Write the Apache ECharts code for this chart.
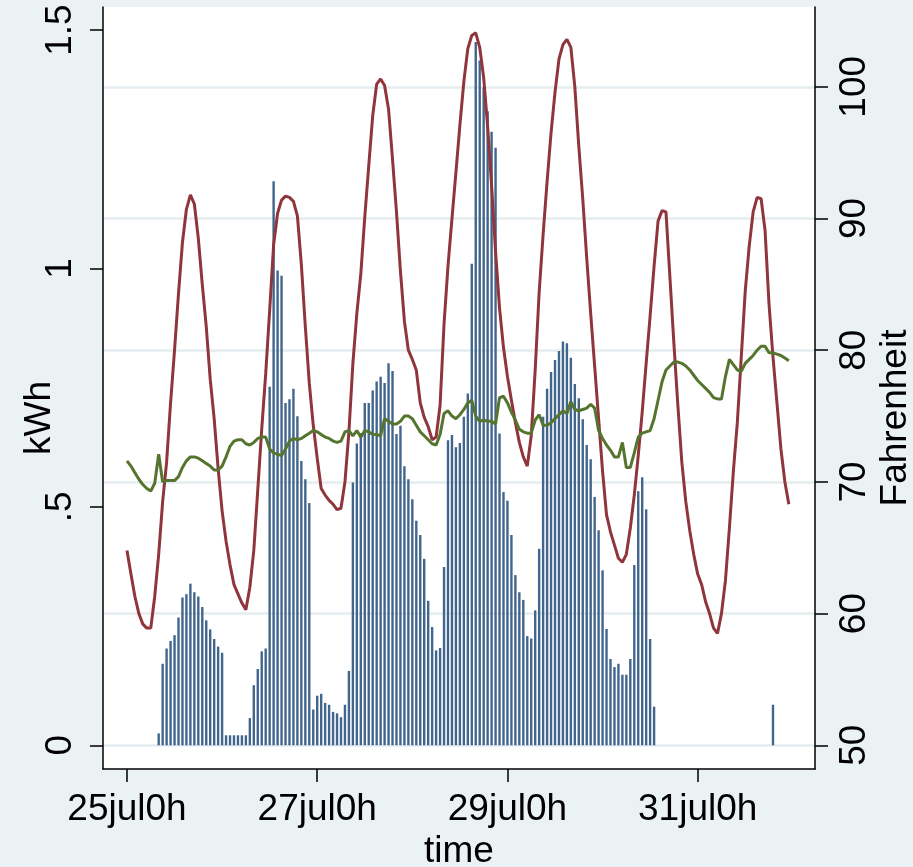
<!DOCTYPE html>
<html>
<head>
<meta charset="utf-8">
<script src="https://cdn.jsdelivr.net/npm/echarts@6.0.0/dist/echarts.min.js"></script>
<style>
html,body{margin:0;padding:0;background:#EAF2F3;}
#chart{width:913px;height:867px;}
</style>
</head>
<body>
<div id="chart"></div>
<script>
// hours since 25jul0h
var tickHours = [0, 48, 96, 144];
var tickLabels = ['25jul0h', '27jul0h', '29jul0h', '31jul0h'];
var kwhTicks = [0, 0.5, 1, 1.5];
var kwhTickLabels = ['0', '.5', '1', '1.5'];
var fTicks = [50, 60, 70, 80, 90, 100];

// hourly kWh (null = no bar), 168 hours
var kwh = [
  null, null, null, null, null, null, null, null,
  0.025, 0.171, 0.203, 0.219, 0.231, 0.268, 0.310, 0.317, 0.339, 0.321, 0.312, 0.290, 0.262, 0.243, 0.223, 0.207,
  0.194, 0.021, 0.021, 0.021, 0.021, 0.021, 0.021, 0.057, 0.126, 0.160, 0.197, 0.203, 0.752, 1.183, 0.996, 0.985,
  0.718, 0.726, 0.748, 0.690, 0.596, 0.558, 0.508, 0.075,
  0.104, 0.108, 0.089, 0.085, 0.070, 0.067, 0.059, 0.085, 0.156, 0.551, 0.633, 0.655, 0.718, 0.718, 0.744, 0.763,
  0.773, 0.760, 0.801, 0.785, 0.653, 0.670, 0.585, 0.558,
  0.516, 0.471, 0.441, 0.391, 0.303, 0.248, 0.199, 0.204, 0.374, 0.640, 0.651, 0.625, 0.634, 0.689, 0.738, 1.010,
  1.475, 1.436, 1.380, 1.330, 1.287, 1.253, 0.654, 0.531,
  0.513, 0.441, 0.357, 0.321, 0.305, 0.229, 0.224, 0.283, 0.412, 0.689, 0.748, 0.783, 0.808, 0.827, 0.847, 0.843,
  0.813, 0.758, 0.728, 0.684, 0.630, 0.600, 0.521, 0.451,
  0.367, 0.244, 0.181, 0.164, 0.171, 0.148, 0.148, 0.181, 0.378, 0.533, 0.562, 0.495, 0.223, 0.081, null, null,
  null, null, null, null, null, null, null, null,
  null, null, null, null, null, null, null, null, null, null, null, null, null, null, null, null,
  null, null, null, 0.085, null, null, null, null
];

// outdoor temperature, Fahrenheit, hourly
var outdoorF = [
  64.8, 63.0, 61.3, 60.0, 59.2, 58.9, 58.9, 61.3, 64.5, 68.5, 71.5, 76.0, 80.0, 84.3, 88.2, 90.7,
  91.8, 91.1, 88.5, 85.0, 81.8, 77.8, 74.8, 71.0, 67.8, 65.5, 63.7, 62.2, 61.5, 60.8, 60.3, 62.0,
  64.8, 69.4, 74.0, 78.2, 83.0, 88.0, 90.4, 91.4, 91.7, 91.6, 91.3, 90.2, 86.5, 81.8, 77.5, 74.3,
  71.8, 69.5, 69.0, 68.6, 68.3, 67.9, 68.0, 70.0, 73.8, 79.0, 82.8, 85.8, 90.1, 94.0, 97.8, 100.2,
  100.6, 100.1, 98.3, 94.5, 90.5, 86.0, 82.2, 80.0, 79.3, 78.5, 76.0, 74.9, 74.2, 73.2, 73.4, 75.8,
  82.0, 86.4, 90.0, 93.5, 97.1, 100.4, 102.9, 103.9, 104.1, 103.0, 100.7, 97.0, 92.5, 87.5, 83.2, 80.2,
  78.0, 76.2, 74.5, 73.0, 71.9, 71.2, 73.5, 78.5, 84.4, 88.8, 92.8, 96.5, 99.6, 102.1, 103.2, 103.6,
  103.0, 100.0, 95.5, 91.5, 87.0, 82.8, 78.8, 74.8, 70.8, 67.5, 66.2, 65.2, 64.2, 63.9, 64.5, 66.5,
  69.0, 72.0, 75.3, 79.0, 82.6, 86.4, 89.8, 90.6, 90.5, 85.5, 80.5, 75.8, 71.5, 68.5, 66.3, 64.5,
  63.0, 62.2, 60.9, 60.0, 58.9, 58.5, 60.0, 62.5, 66.5, 70.8, 74.5, 79.5, 84.5, 87.9, 90.5, 91.6,
  91.5, 89.1, 83.5, 79.5, 76.0, 72.5, 70.0, 68.3
];

// indoor temperature, Fahrenheit, hourly
var indoorF = [
  71.6, 71.2, 70.7, 70.2, 69.8, 69.5, 69.3, 69.9, 72.1, 70.0, 70.1, 70.1, 70.1, 70.4, 71.1, 71.6,
  71.9, 71.9, 71.8, 71.6, 71.4, 71.2, 70.9, 70.9, 71.2, 71.9, 72.7, 73.1, 73.2, 73.2, 72.9, 72.8,
  73.0, 73.3, 73.4, 73.4, 72.5, 72.2, 72.1, 72.0, 72.5, 73.1, 73.3, 73.2, 73.3, 73.5, 73.7, 73.9,
  73.8, 73.6, 73.4, 73.3, 73.1, 73.0, 73.1, 73.8, 73.9, 73.5, 73.9, 73.4, 73.9, 73.8, 73.6, 73.6,
  73.5, 74.8, 74.6, 74.4, 74.4, 74.6, 75.0, 75.0, 74.8, 74.3, 73.8, 73.5, 73.2, 72.9, 72.8, 73.6,
  75.2, 75.4, 75.0, 74.8, 75.1, 75.5, 76.0, 76.2, 75.0, 74.6, 74.7, 74.6, 74.6, 74.4, 76.4, 76.5,
  76.0, 75.3, 74.7, 74.0, 73.8, 73.7, 73.7, 74.7, 75.1, 74.3, 74.3, 74.5, 74.8, 75.1, 75.4, 75.2,
  76.1, 75.5, 75.4, 75.5, 75.6, 75.9, 75.6, 73.9, 73.3, 72.8, 72.4, 71.9, 71.9, 73.0, 71.1, 71.1,
  72.2, 73.4, 73.7, 73.8, 73.9, 74.8, 76.2, 77.6, 78.5, 78.8, 79.1, 79.1, 79.0, 78.8, 78.5, 78.1,
  77.7, 77.4, 77.1, 76.8, 76.4, 76.3, 76.3, 78.0, 79.3, 78.9, 78.5, 78.4, 79.0, 79.3, 79.6, 80.0,
  80.3, 80.3, 79.8, 79.8, 79.7, 79.6, 79.4, 79.2
];

var FONT = 'Liberation Sans';
var FS = 37;

function pairs(arr) {
  var out = [];
  for (var i = 0; i < arr.length; i++) {
    if (arr[i] !== null) out.push([i, arr[i]]);
  }
  return out;
}

var chart = echarts.init(document.getElementById('chart'), null, {renderer: 'canvas'});
var option = {
  backgroundColor: '#EAF2F3',
  animation: false,
  textStyle: {fontFamily: FONT},
  grid: {
    left: 103, right: 98, top: 7, bottom: 98,
    show: true, backgroundColor: '#ffffff', borderWidth: 0,
    containLabel: false,
    outerBoundsMode: 'none'
  },
  xAxis: {
    type: 'value',
    min: -6.05, max: 173.6,
    name: 'time',
    nameLocation: 'middle',
    nameGap: 64,
    nameMoveOverlap: false,
    nameTextStyle: {fontSize: FS, color: '#000', fontFamily: FONT},
    axisLine: {onZero: false, lineStyle: {color: '#000', width: 1.5}},
    axisTick: {show: true, length: 13, customValues: tickHours, lineStyle: {color: '#000', width: 1.5}},
    axisLabel: {
      customValues: tickHours, fontSize: FS, color: '#000', margin: 22, fontFamily: FONT,
      formatter: function (v) { var i = tickHours.indexOf(v); return i >= 0 ? tickLabels[i] : ''; }
    },
    splitLine: {show: false}
  },
  yAxis: [
    {
      type: 'value',
      position: 'left',
      min: -0.0497, max: 1.5484,
      name: 'kWh',
      nameLocation: 'middle',
      nameGap: 45,
      nameMoveOverlap: false,
      nameTextStyle: {fontSize: FS, color: '#000', fontFamily: FONT, padding: [0, 60, 0, 0]},
      axisLine: {show: true, onZero: false, lineStyle: {color: '#000', width: 1.5}},
      axisTick: {show: true, length: 13, customValues: kwhTicks, lineStyle: {color: '#000', width: 1.5}},
      axisLabel: {
        customValues: kwhTicks, rotate: 90, fontSize: FS, color: '#000', margin: 24, fontFamily: FONT,
        formatter: function (v) { var i = kwhTicks.indexOf(v); return i >= 0 ? kwhTickLabels[i] : ''; }
      },
      splitLine: {show: false}
    },
    {
      type: 'value',
      position: 'right',
      min: 48.2, max: 106.06,
      name: 'Fahrenheit',
      nameLocation: 'middle',
      nameGap: 62,
      nameMoveOverlap: false,
      nameTextStyle: {fontSize: FS, color: '#000', fontFamily: FONT, padding: [0, 60, 0, 0]},
      axisLine: {show: true, onZero: false, lineStyle: {color: '#000', width: 1.5}},
      axisTick: {show: true, length: 13, customValues: fTicks, lineStyle: {color: '#000', width: 1.5}},
      axisLabel: {customValues: fTicks, rotate: 90, fontSize: FS, color: '#000', margin: 21, fontFamily: FONT},
      splitLine: {show: true, lineStyle: {color: '#E4EDEF', width: 2.5}}
    }
  ],
  series: [
    {
      type: 'bar',
      yAxisIndex: 0,
      data: pairs(kwh),
      barWidth: 2.4,
      itemStyle: {color: '#41658d'},
      z: 2
    },
    {
      type: 'line',
      yAxisIndex: 1,
      data: pairs(outdoorF),
      showSymbol: false,
      lineStyle: {color: '#90353B', width: 3},
      z: 3
    },
    {
      type: 'line',
      yAxisIndex: 1,
      data: pairs(indoorF),
      showSymbol: false,
      lineStyle: {color: '#55752F', width: 3},
      z: 4
    }
  ]
};
chart.setOption(option);
</script>
</body>
</html>
